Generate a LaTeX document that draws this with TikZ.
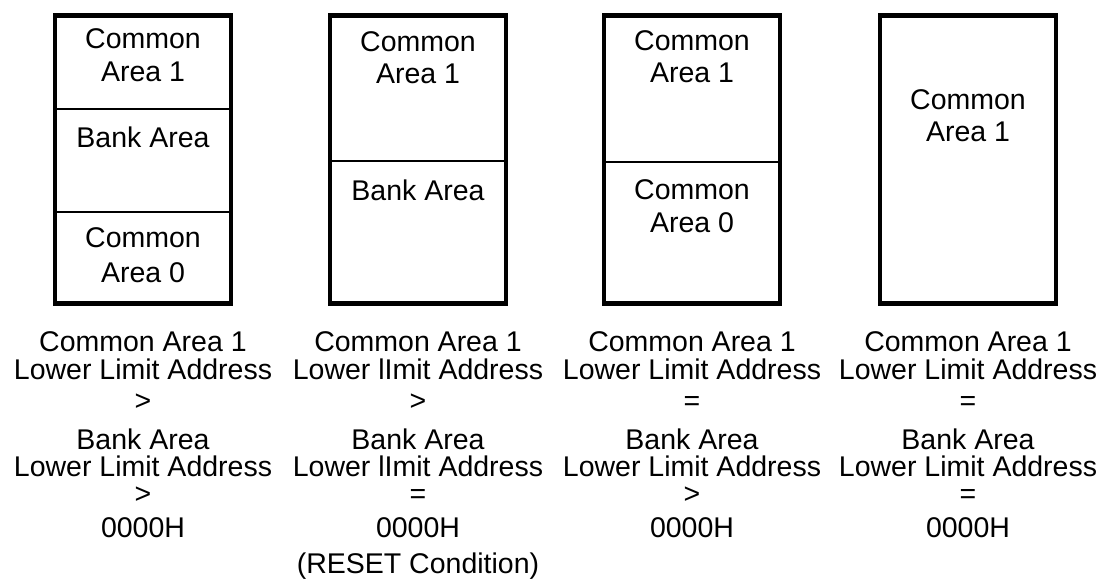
\documentclass[tikz,border=0pt]{standalone}
\usepackage{fontspec}
\setmainfont{Liberation Sans}
\usetikzlibrary{calc}

\tikzset{
  bank/.style={line width=4.5pt},
  split/.style={line width=1.2pt},
  lbl/.style={anchor=base, inner sep=0pt, font=\fontsize{28.5}{30}\selectfont},
}

\begin{document}
\begin{tikzpicture}[x=1pt, y=-1pt]
\useasboundingbox (0,0) rectangle (1096,580);

% area borders inside the maps
\draw[split] (55,109) -- (231,109);
\draw[split] (55,212) -- (231,212);
\draw[split] (330,161) -- (506,161);
\draw[split] (604,162) -- (780,162);

% the four memory maps
\foreach \cx in {143, 418, 692, 968} {
  \draw[bank] (\cx-88,15.5) rectangle (\cx+88,303.5);
}

% names of the areas
\foreach \n/\x/\y/\txt in {
  a1/143/49/Common, a2/143/82/Area 1, a3/143/148/Bank Area,
  a4/143/248/Common, a5/143/283/Area 0,
  b1/418/52/Common, b2/418/84/Area 1, b3/418/201/Bank Area,
  c1/692/51/Common, c2/692/83/Area 1, c3/692/200/Common, c4/692/233/Area 0,
  d1/968/110/Common, d2/968/142/Area 1}
  \node[lbl] (\n) at (\x,\y) {\txt};

% conditions under each map
\foreach \cx/\ra/\rb/\lword [count=\i] in {143/>/>/Limit, 418/>/=/lImit, 692/=/>/Limit, 968/=/=/Limit} {
  \node[lbl] (top\i) at (\cx,352) {Common Area 1};
  \node[lbl] (ll\i) at (\cx,379) {Lower \lword\ Address};
  \node[lbl] (ra\i) at (\cx,410) {\ra};
  \node[lbl] (bk\i) at (\cx,449) {Bank Area};
  \node[lbl] (lb\i) at (\cx,476) {Lower \lword\ Address};
  \node[lbl] (rb\i) at (\cx,503) {\rb};
  \node[lbl] (zero\i) at (\cx,537) {0000H};
}
\node[lbl] (reset) at (418,573) {(RESET Condition)};

\end{tikzpicture}
\end{document}
